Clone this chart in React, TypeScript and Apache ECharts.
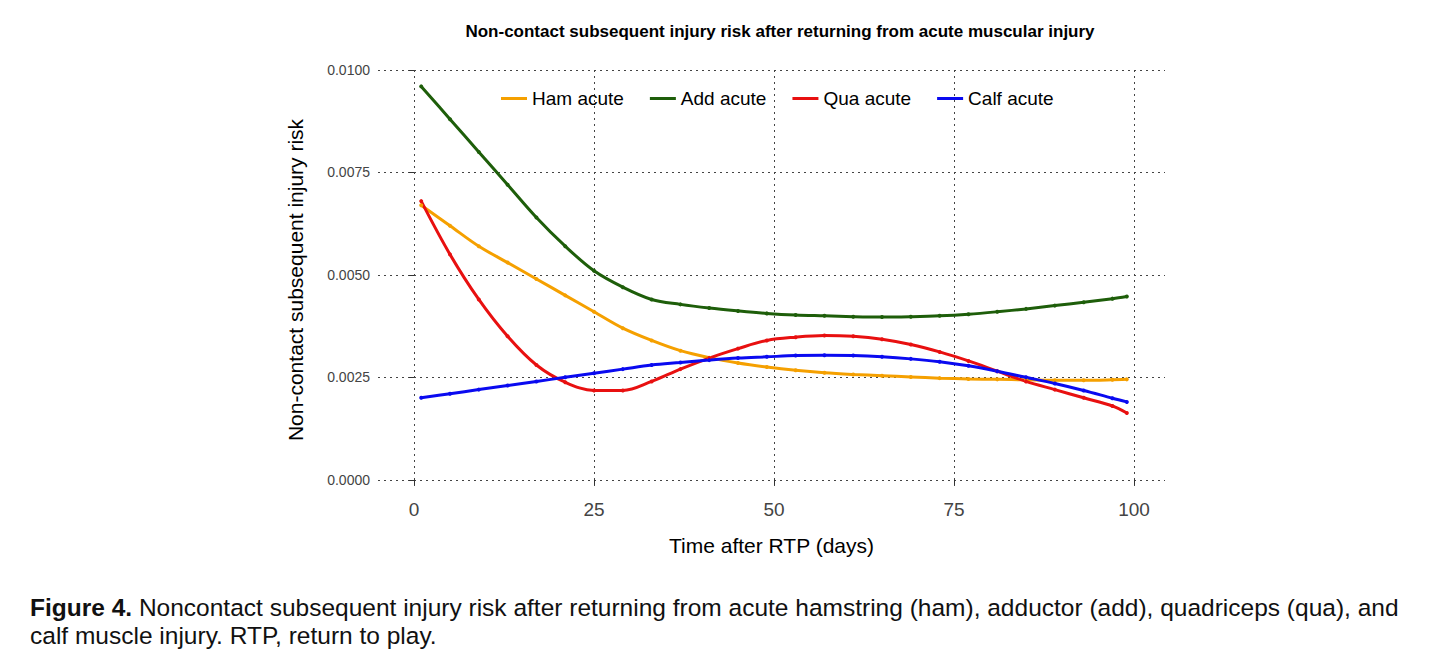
import React, { useEffect, useRef } from "react";
import * as echarts from "echarts";

const days = [1,5,9,13,17,21,25,29,33,37,41,45,49,53,57,61,65,69,73,77,81,85,89,93,97,99];
const ham = [.0067,.0062,.0057,.0053,.0049,.0045,.0041,.0037,.0034,.00315,.00298,.00285,.00275,.00267,.00261,.00257,.00254,.00251,.00248,.00246,.00245,.00244,.00243,.00243,.00244,.00245];
const add = [.0096,.0088,.0080,.0072,.0064,.0057,.0051,.0047,.0044,.00428,.00419,.00412,.00406,.00402,.004,.00398,.00397,.00398,.004,.00404,.0041,.00417,.00425,.00433,.00442,.00447];
const qua = [.0068,.0055,.0044,.0035,.0028,.00238,.00218,.00218,.0024,.0027,.00297,.0032,.0034,.00348,.00352,.0035,.00343,.0033,.00312,.0029,.00265,.0024,.0022,.002,.0018,.00163];
const calf = [.0020,.0021,.0022,.0023,.0024,.0025,.0026,.0027,.0028,.00286,.00292,.00297,.003,.00303,.00304,.00303,.003,.00295,.00288,.00278,.00265,.0025,.00235,.00218,.00199,.0019];
const names = ["Ham acute", "Add acute", "Qua acute", "Calf acute"];
const colors = ["#F5A000", "#1E5E0A", "#E81010", "#0A0AF0"];
const xTicks = [0, 25, 50, 75, 100];
const yTicks = [0, 0.0025, 0.005, 0.0075, 0.01];

export default function App() {
  const ref = useRef<HTMLDivElement>(null);
  useEffect(() => {
    const chart = echarts.init(ref.current!, null, { renderer: "svg" });
    const all = [ham, add, qua, calf];
    chart.setOption({
      animation: false,
      textStyle: { fontFamily: "Liberation Sans, Arial, sans-serif" },
      title: {
        text: "Non-contact subsequent injury risk after returning from acute muscular injury",
        left: 767, top: 10, textAlign: "center",
        textStyle: { fontSize: 17, fontWeight: "bold", color: "#000" },
      },
      legend: {
        top: 76, left: 488, itemWidth: 26, itemHeight: 3, itemGap: 26,
        textStyle: { fontSize: 19, color: "#000" },
        data: names.map((n) => ({ name: n, icon: "rect" })),
      },
      grid: { left: 370, right: 283, top: 62, bottom: 170 },
      xAxis: {
        type: "value", min: -5, max: 104.3,
        name: "Time after RTP (days)", nameLocation: "middle", nameGap: 45,
        nameTextStyle: { fontSize: 21, color: "#000" },
        axisLine: { show: false },
        axisTick: { show: true, customValues: xTicks, length: 5, lineStyle: { color: "#333" } },
        axisLabel: { customValues: xTicks, fontSize: 19, color: "#444", margin: 10 },
        splitLine: { show: true, lineStyle: { type: [2, 4], color: "#444" } },
      },
      yAxis: {
        type: "value", min: -0.00025, max: 0.01,
        name: "Non-contact subsequent injury risk", nameLocation: "middle", nameGap: 72,
        nameTextStyle: { fontSize: 21, color: "#000" },
        axisLine: { show: false },
        axisTick: { show: true, customValues: yTicks, length: 5, lineStyle: { color: "#333" } },
        axisLabel: { customValues: yTicks, fontSize: 14, color: "#444", formatter: (v: number) => v.toFixed(4) },
        splitLine: { show: true, lineStyle: { type: [2, 4], color: "#444" } },
      },
      series: all.map((arr, i) => ({
        name: names[i], type: "line", smooth: 0.35,
        data: days.map((d, j) => [d, arr[j]]),
        symbol: "circle", symbolSize: 4,
        itemStyle: { color: colors[i] }, lineStyle: { width: 3, color: colors[i] },
      })),
      graphic: [
        {
          type: "text", left: 22, top: 585,
          style: {
            text: "{b|Figure 4.} Noncontact subsequent injury risk after returning from acute hamstring (ham), adductor (add), quadriceps (qua), and\ncalf muscle injury. RTP, return to play.",
            fontSize: 24.5, lineHeight: 28, fill: "#111", fontFamily: "Liberation Sans, Arial, sans-serif",
            rich: { b: { fontWeight: "bold", fontSize: 24.5, fill: "#111" } },
          },
        },
      ],
    });
    return () => chart.dispose();
  }, []);
  return <div ref={ref} style={{ width: 1440, height: 652 }} />;
}
